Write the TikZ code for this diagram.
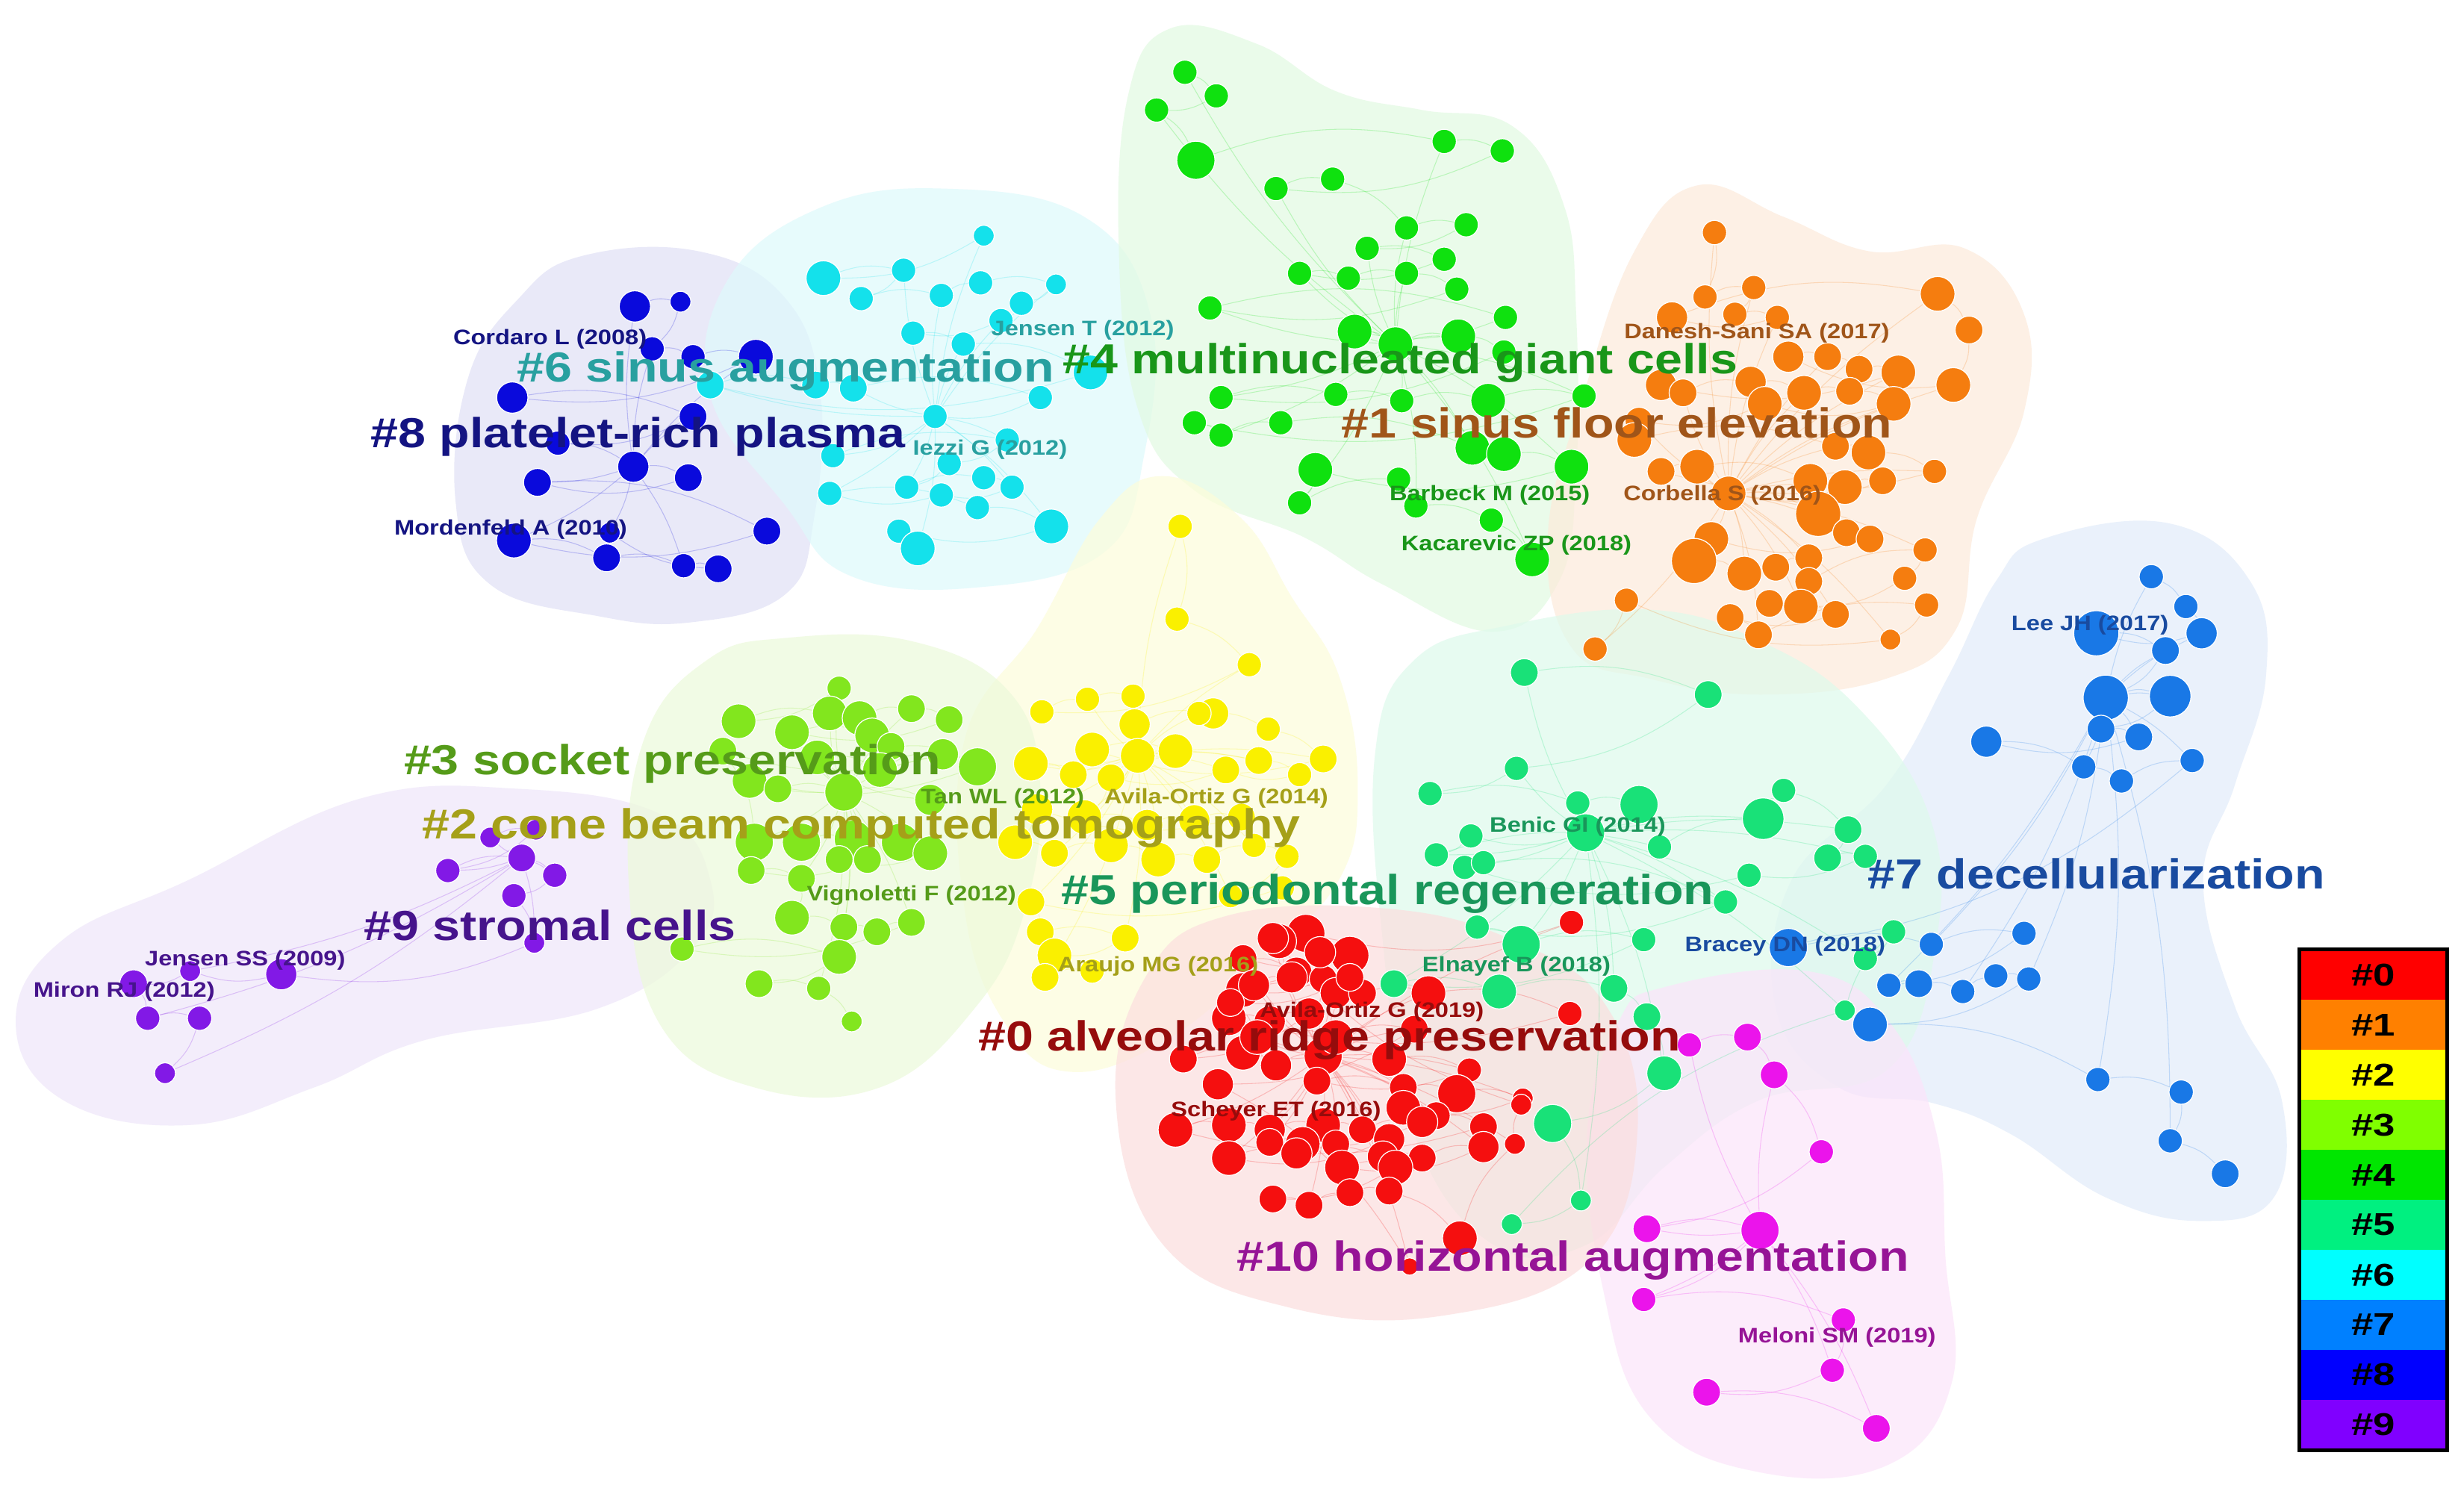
\documentclass[tikz,border=0pt]{standalone}
\usepackage{fontspec}
\setmainfont{Liberation Sans}
\usepackage{graphicx}
\pgfdeclarelayer{bg}
\pgfdeclarelayer{edges}
\pgfsetlayers{bg,edges,main}
% node colours
\definecolor{c0}{RGB}{245,15,15}
\definecolor{c1}{RGB}{245,125,15}
\definecolor{c2}{RGB}{250,240,0}
\definecolor{c3}{RGB}{130,230,30}
\definecolor{c4}{RGB}{15,225,15}
\definecolor{c5}{RGB}{25,225,120}
\definecolor{c6}{RGB}{20,225,235}
\definecolor{c7}{RGB}{25,120,230}
\definecolor{c8}{RGB}{10,10,220}
\definecolor{c9}{RGB}{130,25,230}
\definecolor{c10}{RGB}{235,20,235}
% blob colours
\definecolor{b0}{RGB}{252,222,222}
\definecolor{b1}{RGB}{253,234,218}
\definecolor{b2}{RGB}{253,253,218}
\definecolor{b3}{RGB}{236,250,218}
\definecolor{b4}{RGB}{226,250,226}
\definecolor{b5}{RGB}{222,250,236}
\definecolor{b6}{RGB}{222,250,252}
\definecolor{b7}{RGB}{226,236,250}
\definecolor{b8}{RGB}{224,224,246}
\definecolor{b9}{RGB}{238,230,250}
\definecolor{b10}{RGB}{252,228,250}
% label colours
\definecolor{t0}{RGB}{150,12,12}
\definecolor{t1}{RGB}{160,85,25}
\definecolor{t2}{RGB}{165,160,25}
\definecolor{t3}{RGB}{85,155,25}
\definecolor{t4}{RGB}{25,150,25}
\definecolor{t5}{RGB}{25,150,90}
\definecolor{t6}{RGB}{40,160,160}
\definecolor{t7}{RGB}{25,75,160}
\definecolor{t8}{RGB}{20,20,130}
\definecolor{t9}{RGB}{70,20,140}
\definecolor{t10}{RGB}{150,20,150}
% legend colours
\definecolor{L0}{RGB}{255,0,0}
\definecolor{L1}{RGB}{255,128,0}
\definecolor{L2}{RGB}{255,255,0}
\definecolor{L3}{RGB}{128,255,0}
\definecolor{L4}{RGB}{0,230,0}
\definecolor{L5}{RGB}{0,240,128}
\definecolor{L6}{RGB}{0,255,255}
\definecolor{L7}{RGB}{0,128,255}
\definecolor{L8}{RGB}{0,0,255}
\definecolor{L9}{RGB}{128,0,255}
\newcommand\sx[2]{\scalebox{#1}[1]{#2}}
\newcommand\mkcluster[3]{%
  \foreach \x/\y/\rr [count=\i] in {#3} {%
    \node[nd, fill=#2, minimum size=\rr*0.0465cm] (#1\i) at (\x,\y) {};
    \xdef\lastcount{\i}}}
\newcommand\mkedges[3]{%
  \begin{pgfonlayer}{edges}
  \foreach \k [remember=\k as \kk (initially 1)] in {2,...,\lastcount} {%
    \draw[edgeline, draw=#2] (#1\kk) to[bend left=15] (#1\k);}
  \foreach \k in {1,3,...,\lastcount} {%
    \ifnum\k=#3\relax\else\draw[edgeline, draw=#2] (#1\k) to[bend right=8] (#1#3);\fi}
  \end{pgfonlayer}}
\tikzset{
  nd/.style={circle, inner sep=0pt, draw=white, line width=0.35pt},
  edgeline/.style={line width=0.3pt, draw opacity=0.22},
  blob/.style={fill opacity=0.7, draw=none},
  biglab/.style={inner sep=0pt, font=\fontsize{16}{17}\selectfont\bfseries},
  smalllab/.style={inner sep=0pt, font=\fontsize{8}{9}\selectfont\bfseries},
  legband/.style={rectangle, inner sep=0pt, minimum width=1.968cm, minimum height=0.6693cm, font=\fontsize{12}{14}\selectfont\bfseries, text=black}
}
\begin{document}
\begin{tikzpicture}[x=0.021046cm, y=-0.021046cm]
\useasboundingbox (0,0) rectangle (1568,946.5);
% ---------------- background and blobs
\begin{pgfonlayer}{bg}
\fill[white] (0,0) rectangle (1568,946.5);
\fill[blob, b9] plot[smooth cycle, tension=0.7] coordinates {(230,508) (330,502) (420,518) (452,560) (442,602) (380,642) (270,662) (200,692) (120,716) (40,700) (10,650) (40,598) (120,560)};
\fill[blob, b8] plot[smooth cycle, tension=0.7] coordinates {(370,163) (445,160) (500,190) (522,250) (518,330) (500,378) (440,396) (380,392) (312,372) (290,320) (298,240) (330,190)};
\fill[blob, b6] plot[smooth cycle, tension=0.7] coordinates {(520,133) (600,120) (690,138) (732,200) (728,290) (702,352) (620,374) (540,366) (500,322) (452,252) (462,180)};
\fill[blob, b4] plot[smooth cycle, tension=0.7] coordinates {(745,18) (800,28) (850,58) (905,70) (962,80) (995,130) (1003,200) (1003,300) (992,370) (950,402) (880,372) (830,342) (760,312) (724,260) (712,160) (718,60)};
\fill[blob, b1] plot[smooth cycle, tension=0.7] coordinates {(1080,118) (1135,138) (1190,160) (1250,158) (1288,200) (1288,262) (1258,330) (1245,400) (1200,432) (1120,442) (1050,432) (1000,412) (985,340) (1008,250) (1040,160)};
\fill[blob, b2] plot[smooth cycle, tension=0.7] coordinates {(740,303) (790,330) (822,380) (852,430) (864,500) (852,560) (802,612) (742,662) (680,682) (640,652) (614,580) (614,470) (660,400) (700,330)};
\fill[blob, b3] plot[smooth cycle, tension=0.7] coordinates {(500,406) (580,408) (642,440) (662,500) (652,580) (620,642) (560,692) (480,692) (420,652) (400,560) (410,470) (450,420)};
\fill[blob, b7] plot[smooth cycle, tension=0.7] coordinates {(1300,343) (1380,333) (1432,370) (1442,430) (1422,500) (1402,560) (1422,640) (1452,700) (1447,762) (1400,777) (1340,762) (1280,722) (1230,702) (1170,692) (1130,642) (1140,560) (1200,500) (1240,430) (1270,370)};
\fill[blob, b5] plot[smooth cycle, tension=0.7] coordinates {(960,398) (1050,388) (1120,408) (1182,450) (1228,520) (1232,600) (1202,680) (1120,700) (1060,742) (1010,792) (950,792) (900,722) (880,600) (875,480) (900,420)};
\fill[blob, b10] plot[smooth cycle, tension=0.7] coordinates {(1060,628) (1150,618) (1202,650) (1232,720) (1238,800) (1242,880) (1202,932) (1120,937) (1050,902) (1020,820) (1010,720) (1030,650)};
\fill[blob, b0] plot[smooth cycle, tension=0.7] coordinates {(780,583) (880,578) (962,598) (1022,640) (1042,720) (1012,802) (920,837) (820,832) (740,792) (710,700) (730,620)};
\end{pgfonlayer}
% ---------------- clusters
% #9
\mkcluster{p}{c9}{312/533/6, 341/528/6, 285/554/7, 332/546/8, 353/557/7, 327/570/7, 340/600/6, 179/620/9, 121/618/6, 85/626/8, 94/648/7, 127/648/7, 105/683/6}
\mkedges{p}{c9}{4}
% #8
\mkcluster{d}{c8}{404/195/9, 433/192/6, 415/222/7, 441/227/7, 481/227/10, 326/253/9, 441/265/8, 355/282/7, 403/297/9, 438/304/8, 342/307/8, 488/338/8, 327/344/10, 386/355/8, 435/360/7, 457/362/8, 388/339/6}
\mkedges{d}{c8}{9}
% #6
\mkcluster{c}{c6}{626/150/6, 524/177/10, 575/172/7, 548/190/7, 599/188/7, 624/180/7, 672/181/6, 650/193/7, 637/204/7, 581/212/7, 613/219/7, 694/237/10, 452/245/8, 519/245/8, 543/247/8, 662/253/7, 595/265/7, 530/290/7, 641/280/7, 604/295/7, 577/310/7, 626/304/7, 644/310/7, 599/315/7, 528/314/7, 622/323/7, 669/335/10, 572/338/7, 584/349/10}
\mkedges{c}{c6}{17}
% #4
\mkcluster{g}{c4}{754/46/7, 774/61/7, 736/70/7, 761/102/11, 919/90/7, 956/96/7, 812/120/7, 848/114/7, 895/145/7, 933/143/7, 870/158/7, 919/165/7, 827/174/7, 858/177/7, 895/174/7, 927/184/7, 770/196/7, 958/202/7, 862/211/10, 888/219/10, 928/214/10, 957/224/7, 777/253/7, 850/251/7, 892/255/7, 947/255/10, 1008/252/7, 760/269/7, 777/277/7, 815/269/7, 937/285/10, 957/289/10, 1000/297/10, 837/299/10, 827/320/7, 890/305/7, 901/322/7, 949/331/7, 975/356/10}
\mkedges{g}{c4}{20}
% #1
\mkcluster{o}{c1}{1091/148/7, 1085/189/7, 1116/183/7, 1104/200/7, 1131/202/7, 1064/202/9, 1233/187/10, 1253/210/8, 1243/245/10, 1138/227/9, 1163/227/8, 1183/235/8, 1208/237/10, 1057/245/9, 1071/250/8, 1114/243/9, 1148/250/10, 1177/249/8, 1205/257/10, 1123/257/10, 1043/268/8, 1040/280/10, 1168/284/8, 1189/288/10, 1231/300/7, 1057/300/8, 1080/297/10, 1152/306/10, 1174/310/10, 1198/306/8, 1100/314/10, 1157/327/13, 1175/339/8, 1190/343/8, 1089/343/10, 1078/357/13, 1110/365/10, 1130/361/8, 1151/355/8, 1151/370/8, 1225/350/7, 1212/368/7, 1146/386/10, 1126/384/8, 1168/391/8, 1101/393/8, 1119/404/8, 1226/385/7, 1203/407/6, 1035/382/7, 1015/413/7}
\mkedges{o}{c1}{31}
% #3
\mkcluster{l}{c3}{534/438/7, 470/459/10, 528/454/10, 547/457/10, 580/451/8, 604/458/8, 504/466/10, 555/468/10, 567/475/8, 622/488/11, 477/497/10, 495/502/8, 537/504/11, 592/509/9, 520/482/10, 560/490/10, 600/480/9, 460/478/8, 480/536/11, 510/536/11, 543/534/11, 573/536/11, 592/543/10, 534/547/8, 552/547/8, 478/554/8, 510/559/8, 504/584/10, 537/590/8, 558/593/8, 580/587/8, 434/604/7, 534/609/10, 483/626/8, 521/629/7, 542/650/6}
\mkedges{l}{c3}{13}
% #2
\mkcluster{y}{c2}{751/335/7, 749/394/7, 795/423/7, 663/453/7, 692/445/7, 721/443/7, 722/461/9, 772/454/9, 763/454/7, 807/464/7, 842/483/8, 695/477/10, 748/478/10, 724/481/10, 656/486/10, 683/493/8, 801/484/8, 827/493/7, 780/490/8, 707/495/8, 690/520/10, 730/525/9, 760/522/9, 790/520/8, 660/515/9, 646/536/10, 671/543/8, 707/538/10, 737/547/10, 768/547/8, 798/538/7, 819/545/7, 783/570/7, 816/565/7, 656/574/8, 662/593/8, 716/597/8, 671/608/10, 665/622/8, 695/618/7}
\mkedges{y}{c2}{14}
% #5
\mkcluster{m}{c5}{970/428/8, 1087/442/8, 965/489/7, 910/505/7, 1004/511/7, 1043/512/11, 1009/530/11, 936/532/7, 914/544/7, 1056/539/7, 1122/521/12, 1135/503/7, 1176/528/8, 1163/546/8, 1187/545/7, 1113/557/7, 932/552/7, 944/549/7, 1098/574/7, 940/590/7, 968/601/11, 1046/598/7, 887/626/8, 954/631/10, 1027/629/8, 1048/647/8, 1059/683/10, 988/715/11, 1006/764/6, 962/779/6, 1174/643/6, 1205/593/7, 1187/610/7}
\mkedges{m}{c5}{7}
% #7
\mkcluster{b}{c7}{1369/367/7, 1391/386/7, 1401/403/9, 1334/403/13, 1378/414/8, 1340/444/13, 1381/443/12, 1337/464/8, 1361/469/8, 1264/472/9, 1326/488/7, 1350/497/7, 1395/484/7, 1138/603/11, 1229/601/7, 1288/594/7, 1202/627/7, 1221/626/8, 1249/631/7, 1270/621/7, 1291/623/7, 1190/652/10, 1335/687/7, 1388/695/7, 1381/726/7, 1416/747/8}
\mkedges{b}{c7}{6}
% #10
\mkcluster{h}{c10}{1075/665/7, 1112/660/8, 1129/684/8, 1159/733/7, 1048/782/8, 1120/783/11, 1046/827/7, 1173/840/7, 1166/872/7, 1086/886/8, 1194/909/8}
\mkedges{h}{c10}{6}
% #0
\mkcluster{r}{c0}{1000/587/7, 831/594/11, 814/599/10, 859/608/11, 791/610/8, 825/619/9, 842/623/8, 791/630/10, 850/632/9, 867/632/8, 909/632/10, 999/645/7, 782/648/10, 808/650/9, 833/645/9, 753/674/8, 791/670/10, 812/678/9, 842/672/11, 884/674/10, 935/681/7, 838/688/8, 893/692/8, 927/696/11, 969/699/6, 893/705/10, 914/710/8, 944/717/8, 748/719/10, 782/716/10, 808/719/9, 842/716/10, 867/719/8, 905/714/9, 808/727/8, 829/728/10, 850/728/8, 884/725/9, 782/737/10, 825/734/9, 880/736/9, 905/737/8, 944/730/9, 854/743/10, 888/743/10, 810/763/8, 833/767/8, 859/759/8, 884/758/8, 929/788/10, 964/728/6, 968/703/6, 810/597/9, 840/606/9, 798/627/9, 822/622/9, 859/622/8, 783/638/8, 800/660/10, 850/660/10, 900/655/8, 775/690/9, 897/806/5}
\mkedges{r}{c0}{19}
% ---------------- cluster labels
\node[biglab, text=t6] (L6) at (500,236) {\sx{1.18}{\#6 sinus augmentation}};
\node[biglab, text=t4] (L4) at (891,231) {\sx{1.18}{\#4 multinucleated giant cells}};
\node[biglab, text=t8] (L8) at (406,278) {\sx{1.18}{\#8 platelet-rich plasma}};
\node[biglab, text=t1] (L1) at (1029,269) {\sx{1.18}{\#1 sinus floor elevation}};
\node[biglab, text=t3] (L3) at (428,486) {\sx{1.18}{\#3 socket preservation}};
\node[biglab, text=t2] (L2) at (548,527) {\sx{1.18}{\#2 cone beam computed tomography}};
\node[biglab, text=t9] (L9) at (350,589) {\sx{1.18}{\#9 stromal cells}};
\node[biglab, text=t5] (L5) at (883,569) {\sx{1.18}{\#5 periodontal regeneration}};
\node[biglab, text=t7] (L7) at (1334,556) {\sx{1.18}{\#7 decellularization}};
\node[biglab, text=t0] (L0) at (846,662) {\sx{1.18}{\#0 alveolar ridge preservation}};
\node[biglab, text=t10] (L10) at (1001,802) {\sx{1.18}{\#10 horizontal augmentation}};
% ---------------- author labels
\node[smalllab, text=t8] (a1) at (350,216) {\sx{1.16}{Cordaro L (2008)}};
\node[smalllab, text=t6] (a2) at (689,210) {\sx{1.16}{Jensen T (2012)}};
\node[smalllab, text=t6] (a3) at (630,286) {\sx{1.16}{Iezzi G (2012)}};
\node[smalllab, text=t8] (a4) at (325,337) {\sx{1.16}{Mordenfeld A (2010)}};
\node[smalllab, text=t1] (a5) at (1118,212) {\sx{1.16}{Danesh-Sani SA (2017)}};
\node[smalllab, text=t4] (a6) at (948,315) {\sx{1.16}{Barbeck M (2015)}};
\node[smalllab, text=t1] (a7) at (1096,315) {\sx{1.16}{Corbella S (2016)}};
\node[smalllab, text=t4] (a8) at (965,347) {\sx{1.16}{Kacarevic ZP (2018)}};
\node[smalllab, text=t7] (a9) at (1330,398) {\sx{1.16}{Lee JH (2017)}};
\node[smalllab, text=t3] (a10) at (638,508) {\sx{1.16}{Tan WL (2012)}};
\node[smalllab, text=t2] (a11) at (774,508) {\sx{1.16}{Avila-Ortiz G (2014)}};
\node[smalllab, text=t5] (a12) at (1004,526) {\sx{1.16}{Benic GI (2014)}};
\node[smalllab, text=t3] (a13) at (580,570) {\sx{1.16}{Vignoletti F (2012)}};
\node[smalllab, text=t9] (a14) at (156,611) {\sx{1.16}{Jensen SS (2009)}};
\node[smalllab, text=t9] (a15) at (79,631) {\sx{1.16}{Miron RJ (2012)}};
\node[smalllab, text=t2] (a16) at (737,615) {\sx{1.16}{Araujo MG (2016)}};
\node[smalllab, text=t5] (a17) at (965,615) {\sx{1.16}{Elnayef B (2018)}};
\node[smalllab, text=t7] (a18) at (1136,602) {\sx{1.16}{Bracey DN (2018)}};
\node[smalllab, text=t0] (a19) at (873,644) {\sx{1.16}{Avila-Ortiz G (2019)}};
\node[smalllab, text=t0] (a20) at (812,707) {\sx{1.16}{Scheyer ET (2016)}};
\node[smalllab, text=t10] (a21) at (1169,851) {\sx{1.16}{Meloni SM (2019)}};
% ---------------- legend
\foreach \n in {0,...,9} {%
  \node[legband, fill=L\n] (leg\n) at (1510.25,{620.5+31.8*\n}) {\sx{1.25}{\#\n}};}
\draw[line width=1.5pt] (leg0.north west) rectangle (leg9.south east);
\end{tikzpicture}
\end{document}
